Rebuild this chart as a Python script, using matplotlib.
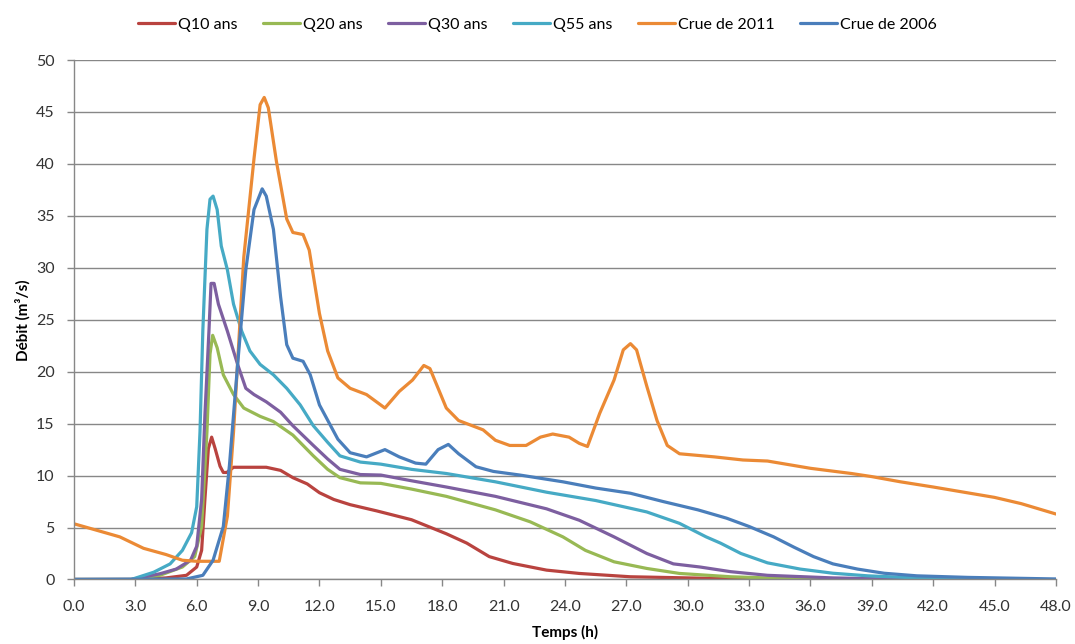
import matplotlib.pyplot as plt
from matplotlib.ticker import MultipleLocator, FormatStrFormatter

plt.rcParams['font.family'] = ['Lato', 'DejaVu Sans']

# Q10 ans
t_q10 = [0, 3.0, 4.5, 5.5, 6.0, 6.24, 6.4, 6.57, 6.73, 6.9, 7.14, 7.3, 7.47, 7.8, 8.45, 9.4,
         10.1, 10.7, 11.4, 12.0, 12.7, 13.5, 14.8, 16.5, 18.2, 19.2, 20.3, 21.45, 23.1, 24.7,
         27.2, 31.3, 34.0]
q10 = [0, 0, 0.15, 0.4, 1.2, 2.8, 7.7, 12.6, 13.7, 12.6, 10.9, 10.3, 10.3, 10.8, 10.8, 10.8,
       10.5, 9.8, 9.2, 8.35, 7.7, 7.2, 6.6, 5.75, 4.4, 3.5, 2.2, 1.54, 0.9, 0.58,
       0.26, 0.1, 0.0]

# Q20 ans
t_q20 = [0, 2.8, 4.2, 5.3, 5.9, 6.24, 6.5, 6.65, 6.78, 7.0, 7.3, 7.8, 8.3, 9.1, 9.75, 10.7,
         11.7, 12.4, 13.0, 14.0, 15.0, 16.5, 18.2, 20.6, 22.3, 23.9, 25.0, 26.4, 28.0, 29.6,
         32.1, 35.0, 38.0]
q20 = [0, 0, 0.4, 1.2, 2.2, 5.1, 14.2, 21.7, 23.5, 22.3, 19.7, 17.8, 16.5, 15.7, 15.2, 13.9,
       11.9, 10.6, 9.8, 9.3, 9.25, 8.7, 8.0, 6.7, 5.55, 4.1, 2.8, 1.7, 1.06, 0.58,
       0.26, 0.08, 0]

# Q30 ans
t_q30 = [0, 2.8, 4.2, 5.0, 5.7, 6.0, 6.24, 6.4, 6.6, 6.7, 6.85, 7.06, 7.5, 8.0, 8.4, 8.8, 9.4,
         10.1, 10.7, 11.7, 12.4, 13.0, 14.0, 15.0, 16.5, 18.2, 20.6, 23.1, 24.7, 26.4, 28.0,
         29.3, 30.6, 32.1, 33.9, 37.1, 41.0]
q30 = [0, 0, 0.55, 1.0, 1.85, 3.2, 7.7, 15.8, 24, 28.5, 28.5, 26.5, 23.9, 20.7, 18.4, 17.8, 17.1,
       16.1, 14.8, 12.9, 11.6, 10.6, 10.1, 10.05, 9.5, 8.9, 8.0, 6.8, 5.7, 4.1, 2.5,
       1.5, 1.2, 0.75, 0.4, 0.15, 0]

# Q55 ans
t_q55 = [0, 2.8, 3.9, 4.7, 5.3, 5.75, 6.0, 6.16, 6.3, 6.5, 6.65, 6.8, 7.0, 7.2, 7.5, 7.8, 8.2,
         8.6, 9.1, 9.75, 10.4, 11.06, 11.7, 12.4, 13.0, 14.0, 15.0, 16.5, 18.2, 20.6, 23.1,
         25.5, 28.0, 29.6, 30.9, 31.6, 32.6, 33.9, 35.5, 37.1, 38.8, 41.2, 44.0]
q55 = [0, 0, 0.7, 1.5, 2.8, 4.5, 7, 14.2, 24, 33.7, 36.6, 36.9, 35.6, 32.1, 29.8, 26.5, 23.9,
       22, 20.7, 19.7, 18.4, 16.8, 14.8, 13.2, 11.9, 11.3, 11.1, 10.6, 10.2, 9.4, 8.4,
       7.6, 6.5, 5.4, 4.1, 3.5, 2.5, 1.6, 1.0, 0.6, 0.35, 0.15, 0]

# Crue de 2011
t_2011 = [0, 1.0, 2.24, 3.4, 4.5, 5.3, 6.0, 7.1, 7.5, 7.8, 8.3, 8.8, 9.1, 9.3, 9.5, 9.9, 10.4,
          10.7, 11.2, 11.5, 12.0, 12.4, 12.9, 13.5, 14.3, 15.2, 15.9, 16.55, 17.1, 17.4, 18.2,
          18.8, 20.0, 20.6, 21.3, 22.1, 22.8, 23.4, 24.2, 24.7, 25.1, 25.7, 26.4, 26.85, 27.2,
          27.5, 28.0, 28.5, 29.0, 29.6, 31.3, 32.7, 33.9, 36.0, 38.0, 39.0, 40.4, 42.0, 45.0,
          46.3, 48.0]
c2011 = [5.36, 4.8, 4.1, 3.0, 2.4, 1.85, 1.75, 1.75, 6.1, 14.2, 31, 40.5, 45.7, 46.4, 45.4, 40.2,
         34.7, 33.4, 33.2, 31.7, 25.6, 22, 19.4, 18.4, 17.8, 16.5, 18.1, 19.2, 20.6, 20.3, 16.5,
         15.3, 14.4, 13.4, 12.9, 12.9, 13.7, 14.0, 13.7, 13.1, 12.8, 16.0, 19.2, 22.1, 22.7,
         22.1, 18.6, 15.3, 12.9, 12.1, 11.8, 11.5, 11.4, 10.7, 10.2, 9.9, 9.4, 8.9, 7.9,
         7.3, 6.3]

# Crue de 2006
t_2006 = [0, 5.5, 6.3, 6.8, 7.3, 7.6, 8.0, 8.4, 8.8, 9.2, 9.4, 9.75, 10.1, 10.4, 10.7, 11.2,
          11.55, 12.0, 12.9, 13.5, 14.3, 15.2, 15.9, 16.7, 17.2, 17.8, 18.3, 18.8, 19.65, 20.5,
          21.8, 23.9, 25.5, 27.2, 28.8, 30.5, 31.9, 33.0, 34.2, 35.2, 36.15, 37.1, 38.3, 39.6,
          41.2, 43.7, 48.0]
c2006 = [0, 0.05, 0.4, 1.85, 5.1, 11, 20.7, 29.8, 35.6, 37.6, 36.9, 33.7, 27.2, 22.6, 21.3, 21.0,
         19.7, 16.8, 13.5, 12.2, 11.8, 12.5, 11.8, 11.2, 11.1, 12.5, 13.0, 12.1, 10.85, 10.4,
         10.05, 9.4, 8.8, 8.3, 7.5, 6.7, 5.9, 5.1, 4.1, 3.1, 2.2, 1.5, 1.0, 0.6,
         0.35, 0.2, 0.05]

series = [
    ('Q10 ans', t_q10, q10, '#B9433F'),
    ('Q20 ans', t_q20, q20, '#98B954'),
    ('Q30 ans', t_q30, q30, '#7D5FA0'),
    ('Q55 ans', t_q55, q55, '#46AAC5'),
    ('Crue de 2011', t_2011, c2011, '#EB8A35'),
    ('Crue de 2006', t_2006, c2006, '#4A7EBB'),
]

fig = plt.figure(figsize=(10.75, 6.44), dpi=100)
ax = fig.add_axes([0.0688, 0.1002, 0.9135, 0.8066])

for name, t, v, c in series:
    ax.plot(t, v, color=c, linewidth=2.3, label=name,
            solid_joinstyle='round', solid_capstyle='round')

ax.set_xlim(0, 48)
ax.set_ylim(0, 50)
ax.xaxis.set_major_locator(MultipleLocator(3))
ax.xaxis.set_major_formatter(FormatStrFormatter('%.1f'))
ax.yaxis.set_major_locator(MultipleLocator(5))

ax.grid(axis='y', color='#878787', linewidth=1)
ax.set_axisbelow(True)
for s in ['top', 'right']:
    ax.spines[s].set_visible(False)
for s in ['left', 'bottom']:
    ax.spines[s].set_color('#878787')
    ax.spines[s].set_linewidth(1)
ax.tick_params(axis='both', colors='#878787', length=5, width=1, labelsize=11.5,
               labelcolor='#333333')
ax.tick_params(axis='x', pad=10)
ax.tick_params(axis='y', pad=9)

ax.set_xlabel('Temps (h)', fontsize=11, fontweight='bold', labelpad=8)
ax.set_ylabel('Débit (m³/s)', fontsize=11, fontweight='bold', labelpad=4)

fig.legend(loc='upper center', bbox_to_anchor=(0.5, 0.995), ncol=6, frameon=False,
           fontsize=11.5, handlelength=2.3, handletextpad=0.2, columnspacing=1.6)

fig.savefig('out.png', dpi=100)
